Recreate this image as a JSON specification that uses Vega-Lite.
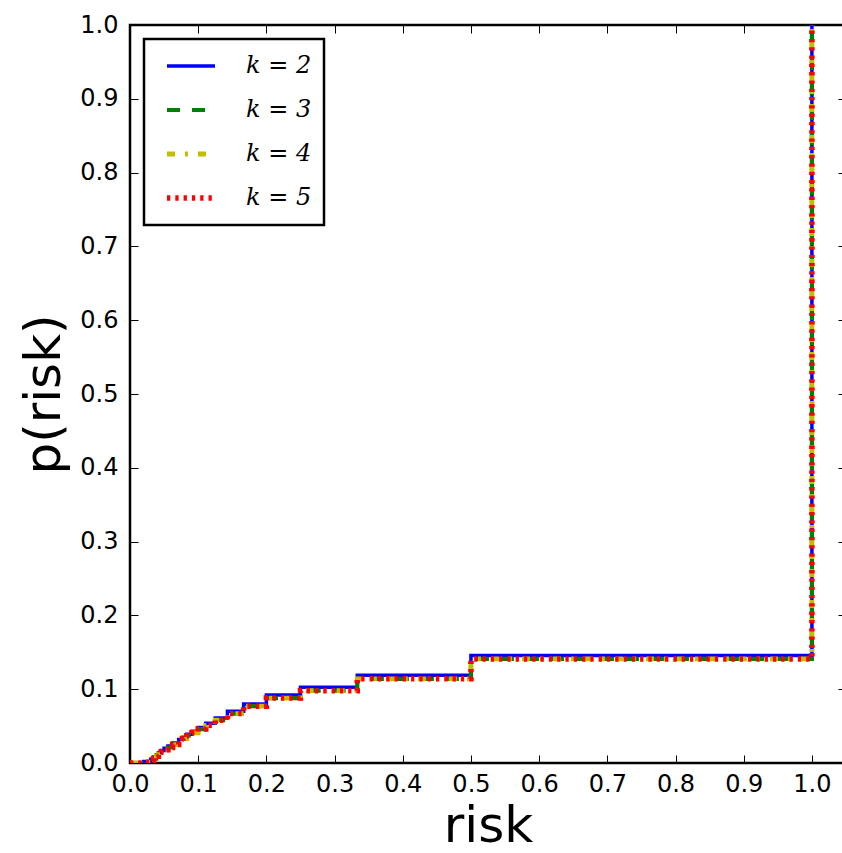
{
  "$schema": "https://vega.github.io/schema/vega-lite/v6.json",
  "autosize": "none",
  "padding": {"left": 130, "top": 25, "right": 0, "bottom": 90},
  "width": 716,
  "height": 738,
  "background": "white",
  "datasets": {
    "cdf": [
      {"k": "2", "risk": 0, "p": 0}, {"k": "2", "risk": 0.02, "p": 0.002}, {"k": "2", "risk": 0.0303, "p": 0.005}, {"k": "2", "risk": 0.0345, "p": 0.008}, {"k": "2", "risk": 0.0385, "p": 0.011}, {"k": "2", "risk": 0.0417, "p": 0.014}, {"k": "2", "risk": 0.0455, "p": 0.017}, {"k": "2", "risk": 0.05, "p": 0.020}, {"k": "2", "risk": 0.0556, "p": 0.023}, {"k": "2", "risk": 0.0625, "p": 0.027}, {"k": "2", "risk": 0.0714, "p": 0.032}, {"k": "2", "risk": 0.0769, "p": 0.035}, {"k": "2", "risk": 0.0833, "p": 0.039}, {"k": "2", "risk": 0.0909, "p": 0.043}, {"k": "2", "risk": 0.1, "p": 0.048}, {"k": "2", "risk": 0.1111, "p": 0.054}, {"k": "2", "risk": 0.125, "p": 0.061}, {"k": "2", "risk": 0.1429, "p": 0.070}, {"k": "2", "risk": 0.1667, "p": 0.080}, {"k": "2", "risk": 0.2, "p": 0.092}, {"k": "2", "risk": 0.25, "p": 0.1025}, {"k": "2", "risk": 0.3333, "p": 0.119}, {"k": "2", "risk": 0.5, "p": 0.1455}, {"k": "2", "risk": 1.0, "p": 1.0},
      {"k": "3", "risk": 0, "p": 0}, {"k": "3", "risk": 0.02, "p": 0.001}, {"k": "3", "risk": 0.0303, "p": 0.003}, {"k": "3", "risk": 0.0345, "p": 0.006}, {"k": "3", "risk": 0.0385, "p": 0.009}, {"k": "3", "risk": 0.0417, "p": 0.012}, {"k": "3", "risk": 0.0455, "p": 0.015}, {"k": "3", "risk": 0.05, "p": 0.018}, {"k": "3", "risk": 0.0556, "p": 0.021}, {"k": "3", "risk": 0.0625, "p": 0.025}, {"k": "3", "risk": 0.0714, "p": 0.030}, {"k": "3", "risk": 0.0769, "p": 0.033}, {"k": "3", "risk": 0.0833, "p": 0.037}, {"k": "3", "risk": 0.0909, "p": 0.041}, {"k": "3", "risk": 0.1, "p": 0.046}, {"k": "3", "risk": 0.1111, "p": 0.051}, {"k": "3", "risk": 0.125, "p": 0.058}, {"k": "3", "risk": 0.1429, "p": 0.067}, {"k": "3", "risk": 0.1667, "p": 0.077}, {"k": "3", "risk": 0.2, "p": 0.088}, {"k": "3", "risk": 0.25, "p": 0.098}, {"k": "3", "risk": 0.3333, "p": 0.114}, {"k": "3", "risk": 0.5, "p": 0.141}, {"k": "3", "risk": 1.0, "p": 1.0},
      {"k": "4", "risk": 0, "p": 0}, {"k": "4", "risk": 0.02, "p": 0.001}, {"k": "4", "risk": 0.0303, "p": 0.003}, {"k": "4", "risk": 0.0345, "p": 0.006}, {"k": "4", "risk": 0.0385, "p": 0.009}, {"k": "4", "risk": 0.0417, "p": 0.012}, {"k": "4", "risk": 0.0455, "p": 0.015}, {"k": "4", "risk": 0.05, "p": 0.018}, {"k": "4", "risk": 0.0556, "p": 0.021}, {"k": "4", "risk": 0.0625, "p": 0.025}, {"k": "4", "risk": 0.0714, "p": 0.030}, {"k": "4", "risk": 0.0769, "p": 0.033}, {"k": "4", "risk": 0.0833, "p": 0.037}, {"k": "4", "risk": 0.0909, "p": 0.041}, {"k": "4", "risk": 0.1, "p": 0.046}, {"k": "4", "risk": 0.1111, "p": 0.051}, {"k": "4", "risk": 0.125, "p": 0.058}, {"k": "4", "risk": 0.1429, "p": 0.067}, {"k": "4", "risk": 0.1667, "p": 0.077}, {"k": "4", "risk": 0.2, "p": 0.088}, {"k": "4", "risk": 0.25, "p": 0.098}, {"k": "4", "risk": 0.3333, "p": 0.114}, {"k": "4", "risk": 0.5, "p": 0.141}, {"k": "4", "risk": 1.0, "p": 1.0},
      {"k": "5", "risk": 0, "p": 0}, {"k": "5", "risk": 0.02, "p": 0.001}, {"k": "5", "risk": 0.0303, "p": 0.003}, {"k": "5", "risk": 0.0345, "p": 0.006}, {"k": "5", "risk": 0.0385, "p": 0.009}, {"k": "5", "risk": 0.0417, "p": 0.012}, {"k": "5", "risk": 0.0455, "p": 0.015}, {"k": "5", "risk": 0.05, "p": 0.018}, {"k": "5", "risk": 0.0556, "p": 0.021}, {"k": "5", "risk": 0.0625, "p": 0.025}, {"k": "5", "risk": 0.0714, "p": 0.030}, {"k": "5", "risk": 0.0769, "p": 0.033}, {"k": "5", "risk": 0.0833, "p": 0.037}, {"k": "5", "risk": 0.0909, "p": 0.041}, {"k": "5", "risk": 0.1, "p": 0.046}, {"k": "5", "risk": 0.1111, "p": 0.051}, {"k": "5", "risk": 0.125, "p": 0.058}, {"k": "5", "risk": 0.1429, "p": 0.067}, {"k": "5", "risk": 0.1667, "p": 0.077}, {"k": "5", "risk": 0.2, "p": 0.088}, {"k": "5", "risk": 0.25, "p": 0.098}, {"k": "5", "risk": 0.3333, "p": 0.114}, {"k": "5", "risk": 0.5, "p": 0.141}, {"k": "5", "risk": 1.0, "p": 1.0}
    ]
  },
  "data": {"name": "cdf"},
  "layer": [
    {
      "mark": {"type": "line", "interpolate": "step-after", "clip": true, "strokeCap": "butt"},
      "encoding": {
        "x": {
          "field": "risk", "type": "quantitative",
          "scale": {"domain": [0, 1.05], "nice": false, "zero": false},
          "axis": {
            "orient": "bottom", "title": "risk",
            "values": [0, 0.1, 0.2, 0.3, 0.4, 0.5, 0.6, 0.7, 0.8, 0.9, 1.0],
            "format": ".1f", "tickSize": -8, "labelPadding": 17.5, "labelFlush": false, "titlePadding": 5
          }
        },
        "y": {
          "field": "p", "type": "quantitative",
          "scale": {"domain": [0, 1], "nice": false},
          "axis": {
            "orient": "left", "title": "p(risk)",
            "values": [0, 0.1, 0.2, 0.3, 0.4, 0.5, 0.6, 0.7, 0.8, 0.9, 1.0],
            "format": ".1f", "tickSize": -8, "labelPadding": 20, "labelFlush": false, "titlePadding": 10
          }
        },
        "color": {
          "field": "k", "type": "nominal",
          "scale": {"domain": ["2", "3", "4", "5"], "range": ["#0000ff", "#008000", "#bfbf00", "#ff0000"]},
          "legend": {"title": null, "labelExpr": "'k = ' + datum.label"}
        },
        "strokeDash": {
          "field": "k", "type": "nominal",
          "scale": {"domain": ["2", "3", "4", "5"], "range": [[1, 0], [13, 12], [8, 10, 3, 10], [3.3, 5]]},
          "legend": {"title": null, "labelExpr": "'k = ' + datum.label"}
        },
        "strokeWidth": {
          "field": "k", "type": "nominal",
          "scale": {"domain": ["2", "3", "4", "5"], "range": [3.5, 5.5, 7.5, 6]},
          "legend": {"title": null, "labelExpr": "'k = ' + datum.label"}
        }
      }
    },
    {
      "mark": {"type": "line", "interpolate": "step-after", "clip": true, "strokeOpacity": 0},
      "encoding": {
        "x": {
          "field": "risk", "type": "quantitative",
          "axis": {"orient": "top", "title": null, "labels": false,
            "values": [0, 0.1, 0.2, 0.3, 0.4, 0.5, 0.6, 0.7, 0.8, 0.9, 1.0], "tickSize": -8}
        },
        "y": {
          "field": "p", "type": "quantitative",
          "axis": {"orient": "right", "title": null, "labels": false,
            "values": [0, 0.1, 0.2, 0.3, 0.4, 0.5, 0.6, 0.7, 0.8, 0.9, 1.0], "tickSize": -8}
        },
        "detail": {"field": "k", "type": "nominal"}
      }
    }
  ],
  "resolve": {"axis": {"x": "independent", "y": "independent"}},
  "config": {
    "view": {"stroke": "black", "strokeWidth": 2.5},
    "axis": {
      "domain": false, "grid": false,
      "tickColor": "black", "tickWidth": 1,
      "labelFont": "DejaVu Sans", "labelFontSize": 24, "labelColor": "black",
      "titleFont": "DejaVu Sans", "titleFontSize": 50, "titleFontWeight": "normal", "titleColor": "black"
    },
    "legend": {
      "orient": "top-left", "offset": 14,
      "strokeColor": "black", "strokeWidth": 2.5, "fillColor": "white",
      "padding": 12, "symbolOffset": 8,
      "symbolType": "stroke", "symbolSize": 2304,
      "clipHeight": 30, "rowPadding": 14, "labelOffset": 28,
      "labelFont": "DejaVu Serif", "labelFontStyle": "italic", "labelFontSize": 24, "labelColor": "black"
    }
  }
}
